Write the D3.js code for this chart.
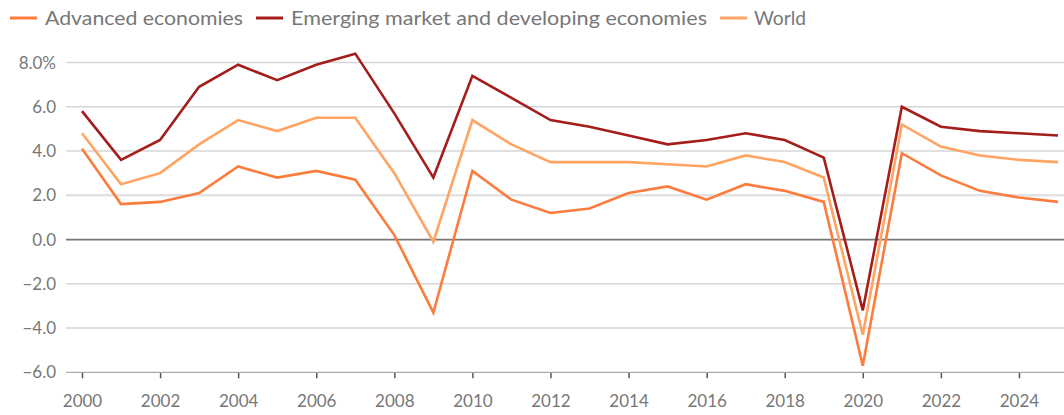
<!DOCTYPE html>
<html><head><meta charset="utf-8">
<script src="https://cdn.jsdelivr.net/npm/d3@7"></script>
<style>
html,body{margin:0;padding:0;background:#fff;}
svg{display:block;}
text{font-family:Lato,"Open Sans",sans-serif;}
</style></head>
<body><svg id="c" width="1064" height="415"></svg>
<script>
const years = d3.range(2000, 2026);
const advanced = [4.1,1.6,1.7,2.1,3.3,2.8,3.1,2.7,0.2,-3.3,3.1,1.8,1.2,1.4,2.1,2.4,1.8,2.5,2.2,1.7,-5.7,3.9,2.9,2.2,1.9,1.7];
const emerging = [5.8,3.6,4.5,6.9,7.9,7.2,7.9,8.4,5.7,2.8,7.4,6.4,5.4,5.1,4.7,4.3,4.5,4.8,4.5,3.7,-3.2,6.0,5.1,4.9,4.8,4.7];
const world    = [4.8,2.5,3.0,4.3,5.4,4.9,5.5,5.5,3.0,-0.1,5.4,4.3,3.5,3.5,3.5,3.4,3.3,3.8,3.5,2.8,-4.3,5.2,4.2,3.8,3.6,3.5];
const yTicks = [-6,-4,-2,0,2,4,6,8];
const xTicks = d3.range(2000, 2026, 2);
const seriesNames = ["Advanced economies","Emerging market and developing economies","World"];
const seriesColors = ["#fc7c3d","#a41d1a","#ffa462"];

const svg = d3.select("#c");
const x = d3.scaleLinear().domain([2000,2025]).range([82,1058]);
const y = d3.scaleLinear().domain([-6,8]).range([372.3,62.5]);
const gridLeft = 66, gridRight = 1064;

// gridlines
svg.append("g").selectAll("line").data(yTicks.filter(v=>v!==0 && v!==-6)).join("line")
  .attr("x1",gridLeft).attr("x2",gridRight)
  .attr("y1",d=>y(d)).attr("y2",d=>y(d))
  .attr("stroke",d=>d===2?"#e2e2e2":"#d6d6d6").attr("stroke-width",d=>d===2?2.5:1.5);

// y labels
svg.append("g").selectAll("text").data(yTicks).join("text")
  .attr("x",56).attr("y",d=>y(d)).attr("dy","0.36em").attr("text-anchor","end")
  .attr("font-size",17).attr("fill","#777")
  .text(d=>(d===8?"8.0%":(d<0?"\u2212"+Math.abs(d).toFixed(1):d.toFixed(1))));

// bottom axis
const xAxis = d3.axisBottom(x).tickValues(xTicks).tickFormat(d3.format("d")).tickSize(6).tickPadding(17);
const ax = svg.append("g").attr("transform",`translate(0,${y(-6)})`).call(xAxis);
ax.select(".domain").remove();
ax.selectAll(".tick line").attr("stroke","#555").attr("stroke-width",1.5);
ax.selectAll(".tick text").attr("font-size",17).attr("fill","#777").attr("font-family",'Lato,"Open Sans",sans-serif');
svg.append("line").attr("x1",gridLeft).attr("x2",gridRight).attr("y1",y(-6)).attr("y2",y(-6))
  .attr("stroke","#aaa").attr("stroke-width",1.2);

// zero line
svg.append("line").attr("x1",gridLeft).attr("x2",gridRight).attr("y1",y(0)).attr("y2",y(0))
  .attr("stroke","#777").attr("stroke-width",1.8);

// lines
const line = d3.line().x((d,i)=>x(years[i])).y(d=>y(d));
const data = [advanced, emerging, world];
[2,1,0].forEach(k=>{
  svg.append("path").datum(data[k]).attr("d",line).attr("fill","none")
    .attr("stroke",seriesColors[k]).attr("stroke-width",2.6).attr("stroke-linejoin","miter");
});

// legend
const swX = [10,256,720];
const txX = [45,291,754];
const txW = [198,416,52];
const lg = svg.append("g");
seriesNames.forEach((n,i)=>{
  lg.append("line").attr("x1",swX[i]).attr("x2",swX[i]+27).attr("y1",18).attr("y2",18)
    .attr("stroke",seriesColors[i]).attr("stroke-width",3);
  lg.append("text").attr("x",txX[i]).attr("y",18).attr("dy","0.36em")
    .attr("font-size",19).attr("fill","#777")
    .attr("textLength",txW[i]).attr("lengthAdjust","spacingAndGlyphs").text(n);
});
</script></body></html>
